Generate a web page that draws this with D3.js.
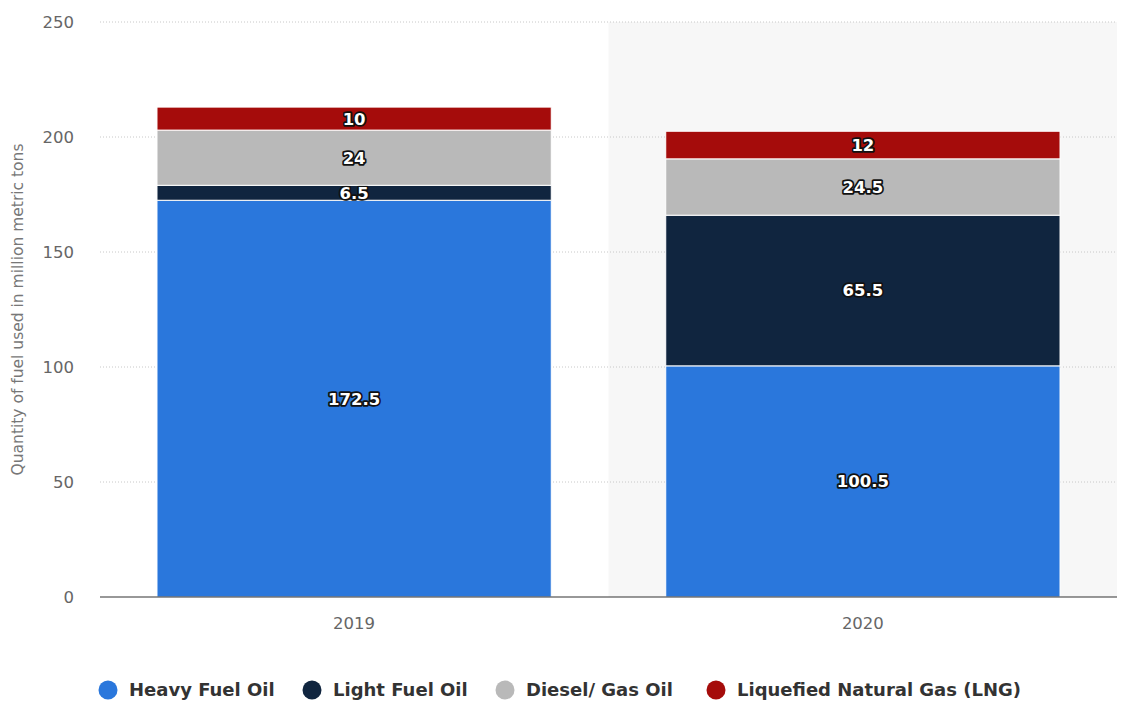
<!DOCTYPE html>
<html>
<head>
<meta charset="utf-8">
<script src="https://cdn.jsdelivr.net/npm/d3@7"></script>
<style>
  body { margin: 0; background: #fff; font-family: "DejaVu Sans", "Open Sans", sans-serif; }
  .lbl { font-weight: 700; font-size: 16.5px; fill: #fff; stroke: #111; stroke-width: 3.5px; paint-order: stroke; stroke-linejoin: round; }
</style>
</head>
<body>
<svg id="chart"></svg>
<script>
const width = 1125;
const height = 703;

// data
const years = ["2019", "2020"];
const fuels = ["Heavy Fuel Oil", "Light Fuel Oil", "Diesel/ Gas Oil", "Liquefied Natural Gas (LNG)"];
const heavyFuelOil = [172.5, 100.5];
const lightFuelOil = [6.5, 65.5];
const dieselGasOil = [24, 24.5];
const lng = [10, 12];
const yTicks = [0, 50, 100, 150, 200, 250];

const colors = ["#2a77dc", "#10253f", "#b9b9b9", "#a50c0b"];

const series = [heavyFuelOil, lightFuelOil, dieselGasOil, lng];
const rows = years.map((y, i) => {
  const r = { year: y };
  fuels.forEach((f, k) => r[f] = series[k][i]);
  return r;
});

const margin = { top: 22, right: 8, bottom: 106, left: 100 };

const svg = d3.select("#chart")
  .attr("width", width)
  .attr("height", height);

const x = d3.scaleBand()
  .domain(years)
  .range([margin.left, width - margin.right])
  .paddingInner(0.225)
  .paddingOuter(0.112);

const y = d3.scaleLinear()
  .domain([0, 250])
  .range([height - margin.bottom, margin.top]);

// shaded background behind second category
const step = x.step();
const shadeX = x("2020") - step * x.paddingInner() / 2;
svg.append("rect")
  .attr("x", shadeX)
  .attr("y", y(250))
  .attr("width", width - margin.right - shadeX)
  .attr("height", y(0) - y(250))
  .attr("fill", "#f7f7f7");

// gridlines
svg.append("g")
  .selectAll("line")
  .data(yTicks.filter(d => d > 0))
  .join("line")
  .attr("x1", margin.left)
  .attr("x2", width - margin.right)
  .attr("y1", d => y(d))
  .attr("y2", d => y(d))
  .attr("stroke", "#c8c8c8")
  .attr("stroke-dasharray", "1,2");

// y labels
svg.append("g")
  .selectAll("text")
  .data(yTicks)
  .join("text")
  .attr("x", 74)
  .attr("y", d => y(d))
  .attr("dy", "0.35em")
  .attr("text-anchor", "end")
  .attr("fill", "#666")
  .style("font-size", "16.5px")
  .text(d => d);

svg.append("text")
  .attr("transform", `translate(23,${(y(0) + y(250)) / 2}) rotate(-90)`)
  .attr("text-anchor", "middle")
  .attr("fill", "#777")
  .style("font-size", "15.5px")
  .text("Quantity of fuel used in million metric tons");

// stacked bars
const stack = d3.stack().keys(fuels);
const stacked = stack(rows);

const layers = svg.append("g")
  .selectAll("g")
  .data(stacked)
  .join("g")
  .attr("fill", (d, i) => colors[i]);

layers.selectAll("rect")
  .data(d => d)
  .join("rect")
  .attr("x", d => x(d.data.year))
  .attr("width", x.bandwidth())
  .attr("y", d => y(d[1]))
  .attr("height", d => y(d[0]) - y(d[1]))
  .attr("stroke", "#fff")
  .attr("stroke-width", 1);

// value labels
layers.selectAll("text")
  .data(d => d.map(v => ({ v, key: d.key })))
  .join("text")
  .attr("class", "lbl")
  .attr("x", d => x(d.v.data.year) + x.bandwidth() / 2)
  .attr("y", d => (y(d.v[0]) + y(d.v[1])) / 2)
  .attr("dy", "0.36em")
  .attr("text-anchor", "middle")
  .text(d => d.v.data[d.key]);

// baseline
svg.append("line")
  .attr("x1", margin.left)
  .attr("x2", width - margin.right)
  .attr("y1", y(0))
  .attr("y2", y(0))
  .attr("stroke", "#333")
  .attr("stroke-width", 1.2);

// x labels
svg.append("g")
  .selectAll("text")
  .data(years)
  .join("text")
  .attr("x", d => x(d) + x.bandwidth() / 2)
  .attr("y", y(0) + 32)
  .attr("text-anchor", "middle")
  .attr("fill", "#666")
  .style("font-size", "16.5px")
  .text(d => d);

// legend
const legendX = [108, 312, 505, 716];
const legend = svg.append("g")
  .selectAll("g")
  .data(fuels)
  .join("g")
  .attr("transform", (d, i) => `translate(${legendX[i]},690)`);

legend.append("circle")
  .attr("r", 9.5)
  .attr("fill", (d, i) => colors[i]);

legend.append("text")
  .attr("x", 21)
  .attr("dy", "0.35em")
  .attr("fill", "#333")
  .style("font-size", "18px")
  .style("font-weight", 700)
  .text(d => d);
</script>
</body>
</html>
